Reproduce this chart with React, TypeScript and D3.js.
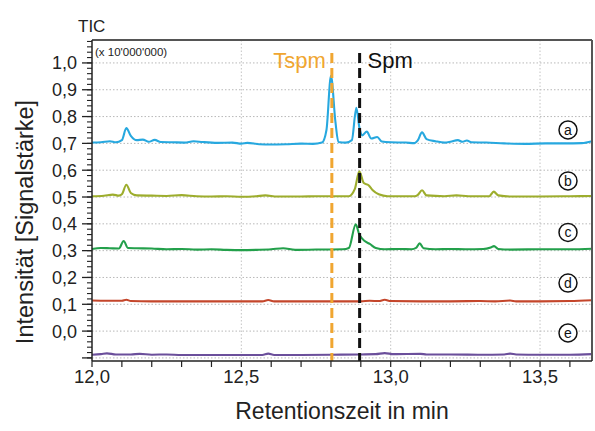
import React from "react";
import * as d3 from "d3";

const seriesNames = ["a", "b", "c", "d", "e"];
const seriesColors = ["#27a8df", "#9dad2d", "#23a04b", "#c4462b", "#6b4f9b"];

const timesA = [12.0, 12.03, 12.06, 12.08, 12.1, 12.115, 12.13, 12.15, 12.17, 12.19, 12.21, 12.23, 12.27, 12.31, 12.34, 12.37, 12.42, 12.47, 12.5, 12.52, 12.56, 12.6, 12.65, 12.7, 12.74, 12.77, 12.785, 12.8, 12.815, 12.825, 12.85, 12.87, 12.885, 12.895, 12.905, 12.92, 12.935, 12.955, 12.97, 13.0, 13.05, 13.08, 13.09, 13.105, 13.12, 13.15, 13.18, 13.2, 13.225, 13.24, 13.255, 13.27, 13.32, 13.38, 13.45, 13.52, 13.58, 13.64, 13.674];
const valuesA = [0.703, 0.704, 0.708, 0.704, 0.712, 0.757, 0.728, 0.712, 0.714, 0.706, 0.713, 0.705, 0.704, 0.703, 0.708, 0.705, 0.702, 0.703, 0.699, 0.702, 0.697, 0.696, 0.697, 0.699, 0.698, 0.703, 0.75, 0.952, 0.78, 0.705, 0.703, 0.712, 0.833, 0.76, 0.73, 0.744, 0.718, 0.724, 0.707, 0.704, 0.703, 0.701, 0.71, 0.741, 0.716, 0.708, 0.703, 0.706, 0.712, 0.706, 0.711, 0.704, 0.703, 0.7, 0.698, 0.7, 0.7, 0.701, 0.708];

const timesB = [12.0, 12.04, 12.07, 12.09, 12.1, 12.115, 12.13, 12.15, 12.2, 12.25, 12.3, 12.35, 12.4, 12.45, 12.5, 12.55, 12.58, 12.62, 12.7, 12.75, 12.8, 12.86, 12.88, 12.895, 12.91, 12.926, 12.94, 12.96, 12.99, 13.04, 13.08, 13.09, 13.105, 13.12, 13.18, 13.22, 13.26, 13.33, 13.345, 13.36, 13.4, 13.5, 13.6, 13.674];
const valuesB = [0.503, 0.505, 0.509, 0.505, 0.51, 0.546, 0.515, 0.506, 0.505, 0.504, 0.507, 0.503, 0.502, 0.503, 0.501, 0.503, 0.506, 0.502, 0.502, 0.503, 0.503, 0.503, 0.53, 0.596, 0.552, 0.544, 0.525, 0.51, 0.503, 0.503, 0.503, 0.507, 0.525, 0.506, 0.503, 0.506, 0.503, 0.503, 0.52, 0.506, 0.502, 0.502, 0.503, 0.504];

const timesC = [12.0, 12.03, 12.06, 12.09, 12.106, 12.12, 12.15, 12.2, 12.25, 12.3, 12.35, 12.4, 12.45, 12.5, 12.55, 12.6, 12.64, 12.68, 12.75, 12.84, 12.86, 12.883, 12.895, 12.913, 12.93, 12.95, 12.98, 13.03, 13.07, 13.085, 13.097, 13.11, 13.15, 13.2, 13.25, 13.31, 13.335, 13.346, 13.36, 13.4, 13.5, 13.6, 13.674];
const valuesC = [0.306, 0.31, 0.309, 0.308, 0.336, 0.31, 0.309, 0.308, 0.305, 0.306, 0.304, 0.305, 0.303, 0.302, 0.303, 0.305, 0.309, 0.303, 0.304, 0.305, 0.31, 0.398, 0.36, 0.336, 0.325, 0.31, 0.305, 0.306, 0.305, 0.31, 0.327, 0.309, 0.305, 0.306, 0.305, 0.306, 0.312, 0.317, 0.306, 0.304, 0.305, 0.305, 0.307];

const timesD = [12.0, 12.05, 12.1, 12.115, 12.13, 12.2, 12.3, 12.4, 12.5, 12.57, 12.59, 12.61, 12.7, 12.8, 12.9, 12.93, 12.96, 12.98, 13.0, 13.1, 13.2, 13.3, 13.35, 13.4, 13.42, 13.5, 13.6, 13.674];
const valuesD = [0.114, 0.113, 0.113, 0.117, 0.112, 0.111, 0.111, 0.111, 0.111, 0.111, 0.116, 0.111, 0.111, 0.111, 0.111, 0.113, 0.112, 0.117, 0.112, 0.111, 0.111, 0.112, 0.111, 0.114, 0.111, 0.111, 0.112, 0.115];

const timesE = [12.0, 12.03, 12.05, 12.08, 12.13, 12.16, 12.2, 12.25, 12.3, 12.4, 12.5, 12.57, 12.59, 12.61, 12.7, 12.8, 12.9, 12.95, 12.98, 13.01, 13.1, 13.12, 13.2, 13.3, 13.38, 13.4, 13.42, 13.5, 13.6, 13.674];
const valuesE = [-0.088, -0.086, -0.083, -0.087, -0.087, -0.085, -0.088, -0.087, -0.089, -0.089, -0.089, -0.089, -0.084, -0.089, -0.089, -0.088, -0.087, -0.086, -0.082, -0.086, -0.085, -0.087, -0.087, -0.088, -0.087, -0.084, -0.087, -0.088, -0.088, -0.086];

const seriesTimes = [timesA, timesB, timesC, timesD, timesE];
const seriesValues = [valuesA, valuesB, valuesC, valuesD, valuesE];
const legendLevels = [0.75, 0.56, 0.368, 0.179, -0.007];

const xMajorTicks = [12.0, 12.5, 13.0, 13.5];
const xTickLabels = ["12,0", "12,5", "13,0", "13,5"];
const yMajorTicks = [1.0, 0.9, 0.8, 0.7, 0.6, 0.5, 0.4, 0.3, 0.2, 0.1, 0.0, -0.1];
const yTickLabels = ["1,0", "0,9", "0,8", "0,7", "0,6", "0,5", "0,4", "0,3", "0,2", "0,1", "0,0", ""];

const markers = [
  { name: "Tspm", time: 12.803, color: "#f0a631" },
  { name: "Spm", time: 12.896, color: "#111111" },
];

const FONT = "'Liberation Sans', Arial, sans-serif";

export default function App() {
  const left = 92, right = 592, top = 40, bottom = 361;
  const x = d3.scaleLinear().domain([12.0, 13.674]).range([left, right]);
  const y = d3.scaleLinear().domain([-0.1115, 1.0855]).range([bottom, top]);

  const xMinor = d3.range(120, 137).map((i) => i / 10);
  const yMinor = d3.range(-5, 55).map((i) => i / 50);

  const line = d3
    .line<[number, number]>()
    .x((d) => x(d[0]))
    .y((d) => y(d[1]))
    .curve(d3.curveMonotoneX);

  return (
    <svg
      width={595}
      height={431}
      style={{ position: "absolute", left: 0, top: 0, background: "#fff" }}
      fontFamily={FONT}
    >
      <rect x={0} y={0} width={595} height={431} fill="#fff" />
      {/* grid */}
      {yMajorTicks.map((t) => (
        <line key={"gy" + t} x1={left} x2={right} y1={y(t)} y2={y(t)} stroke="#b8b8b8" strokeWidth={1} strokeDasharray="1.5,2" />
      ))}
      {xMajorTicks.slice(1).map((t) => (
        <line key={"gx" + t} x1={x(t)} x2={x(t)} y1={top} y2={bottom} stroke="#c4c4c4" strokeWidth={1} strokeDasharray="1.5,2" />
      ))}

      {/* traces */}
      {seriesNames.map((n, i) => {
        const pts = seriesTimes[i].map((t, j) => [t, seriesValues[i][j]] as [number, number]);
        return <path key={n} d={line(pts) || ""} fill="none" stroke={seriesColors[i]} strokeWidth={2.1} strokeLinejoin="round" />;
      })}

      {/* marker lines */}
      {markers.map((m) => (
        <line key={m.name} x1={x(m.time)} x2={x(m.time)} y1={53} y2={bottom} stroke={m.color} strokeWidth={3} strokeDasharray="10,5" />
      ))}
      <text x={x(markers[0].time) - 6} y={68} fontSize={22} fill={markers[0].color} textAnchor="end">{markers[0].name}</text>
      <text x={x(markers[1].time) + 8} y={68} fontSize={22} fill={markers[1].color}>{markers[1].name}</text>

      {/* legend circles */}
      {seriesNames.map((n, i) => (
        <g key={"lg" + n} transform={`translate(568, ${y(legendLevels[i])})`}>
          <circle r={9} fill="#fff" stroke="#111" strokeWidth={1.5} />
          <text y={5} textAnchor="middle" fontSize={14} fill="#111">{n}</text>
        </g>
      ))}

      {/* frame */}
      <line x1={left} x2={right} y1={top} y2={top} stroke="#555" strokeWidth={2} />
      <line x1={right} x2={right} y1={top} y2={bottom} stroke="#555" strokeWidth={2} />
      <line x1={left} x2={right} y1={bottom} y2={bottom} stroke="#222" strokeWidth={1.5} />
      <line x1={left} x2={left} y1={top} y2={bottom} stroke="#222" strokeWidth={1.5} />

      {/* x ticks */}
      {xMinor.map((t) => (
        <line key={"xt" + t} x1={x(t)} x2={x(t)} y1={bottom} y2={bottom + 6} stroke="#222" strokeWidth={1.2} />
      ))}
      {xMajorTicks.map((t, i) => (
        <text key={"xl" + t} x={x(t)} y={383} fontSize={18.5} textAnchor="middle" fill="#222">{xTickLabels[i]}</text>
      ))}

      {/* y ticks */}
      {yMinor.map((t) => (
        <line key={"ym" + t} x1={left - 5} x2={left} y1={y(t)} y2={y(t)} stroke="#222" strokeWidth={1.1} />
      ))}
      {yMajorTicks.map((t, i) => (
        <g key={"yt" + t}>
          <line x1={left - 10} x2={left} y1={y(t)} y2={y(t)} stroke="#222" strokeWidth={1.3} />
          <text x={77} y={y(t) + 6.5} fontSize={18} textAnchor="end" fill="#222">{yTickLabels[i]}</text>
        </g>
      ))}

      {/* labels */}
      <text x={78} y={32} fontSize={17} fill="#222">TIC</text>
      <text x={95} y={56} fontSize={11.5} fill="#222">(x 10'000'000)</text>
      <text x={342} y={419} fontSize={23} textAnchor="middle" fill="#222">Retentionszeit in min</text>
      <text transform="translate(33, 222) rotate(-90)" fontSize={23.5} textAnchor="middle" fill="#222">Intensität [Signalstärke]</text>
    </svg>
  );
}
